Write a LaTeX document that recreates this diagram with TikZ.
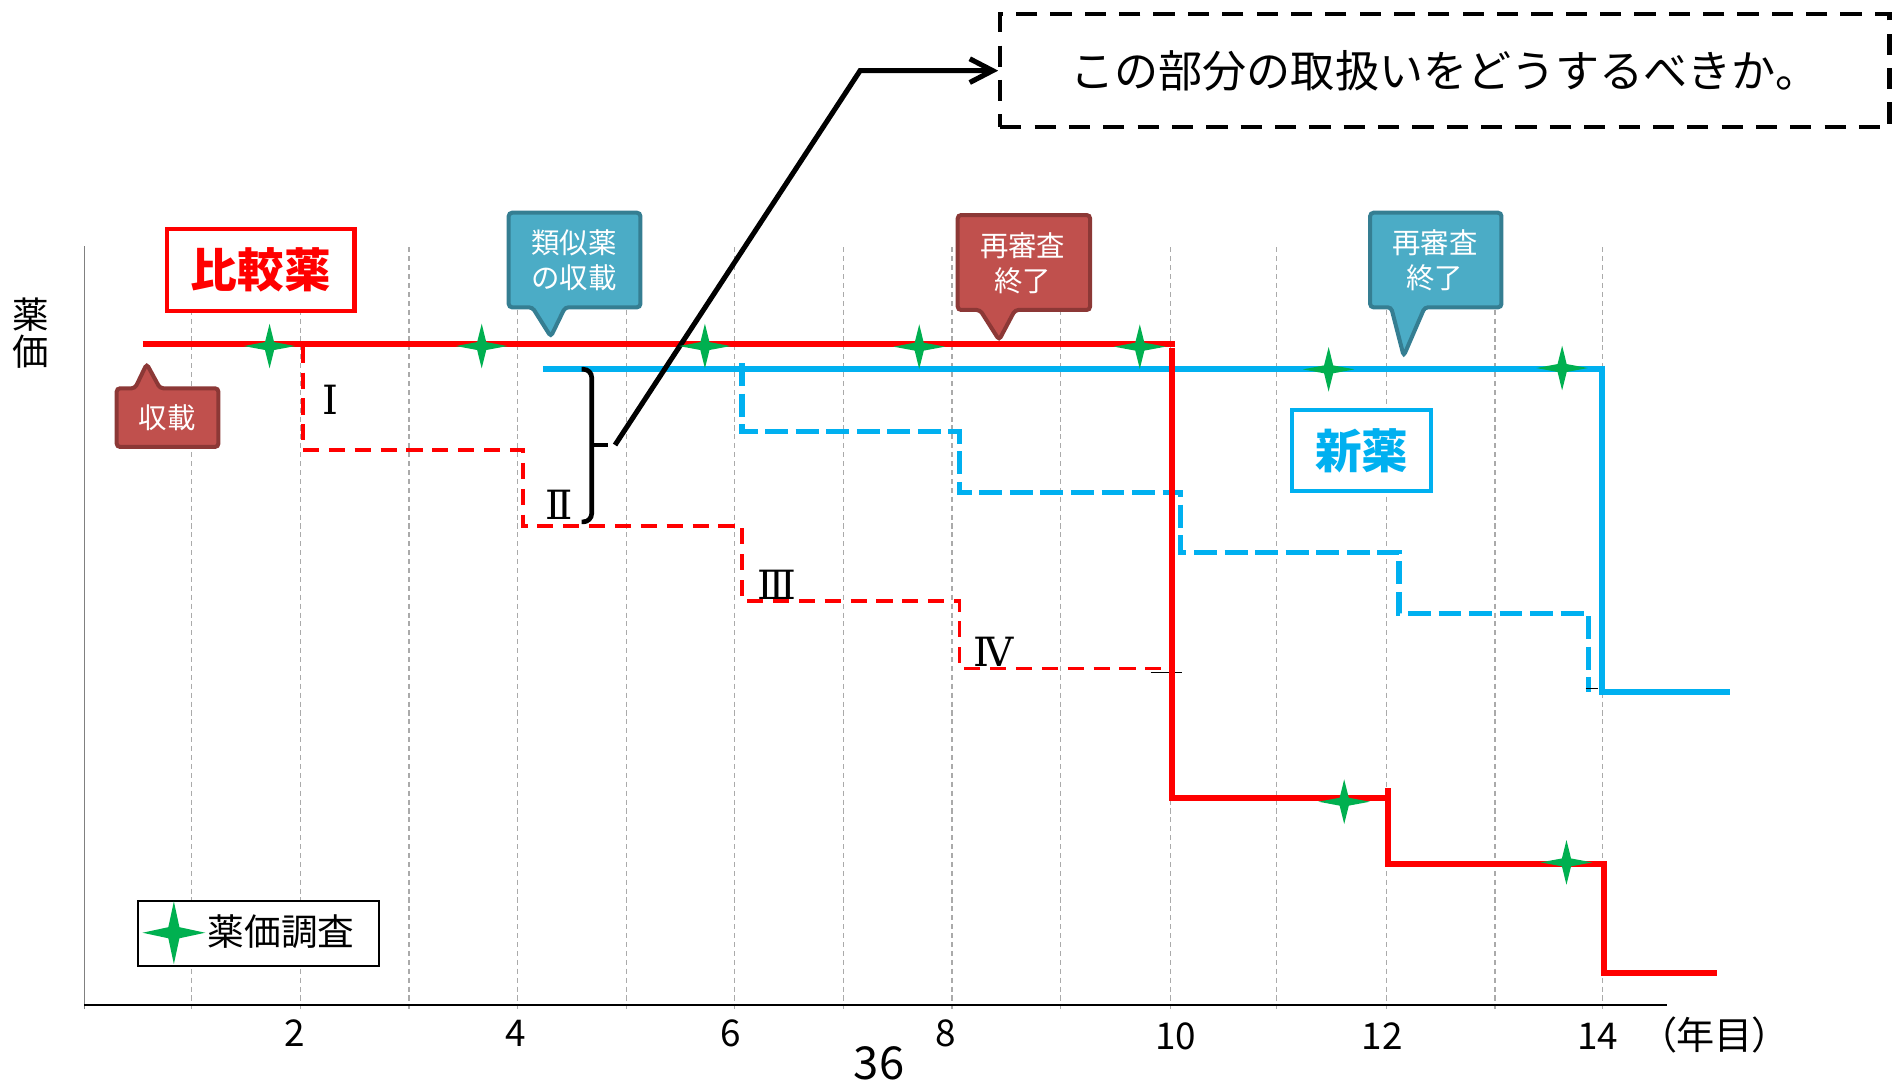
\documentclass[tikz,border=0pt]{standalone}
\usepackage{fontspec}
\setmainfont{Noto Sans CJK JP}
\newfontfamily\romanfont{DejaVu Serif}
\newfontfamily\yearfont[RawFeature=+palt]{Noto Sans CJK JP}
\usepackage{xcolor}
\usepackage{tikz}
\usetikzlibrary{shapes.geometric, arrows.meta}
\definecolor{cmpred}{RGB}{255,0,0}
\definecolor{newblue}{RGB}{0,176,240}
\definecolor{survgreen}{RGB}{0,176,80}
\definecolor{calred}{RGB}{192,80,77}
\definecolor{calredline}{RGB}{140,56,54}
\definecolor{calblue}{RGB}{75,172,198}
\definecolor{calblueline}{RGB}{53,126,146}
\definecolor{gridgray}{RGB}{170,170,170}
\tikzstyle{red step}=[-, draw=cmpred, line width=1.4pt]
\tikzstyle{red dashed step}=[-, draw=cmpred, line width=0.8pt, dash pattern=on 3.8pt off 2.3pt]
\tikzstyle{blue step}=[-, draw=newblue, line width=1.35pt]
\tikzstyle{blue dashed step}=[-, draw=newblue, line width=1.3pt, dash pattern=on 5.4pt off 1.8pt]
\tikzstyle{grid edge}=[-, draw=gridgray, line width=0.3pt, dash pattern=on 1.2pt off 0.9pt]
\tikzstyle{axis edge}=[-, draw=black, line width=0.45pt]
\tikzstyle{y axis edge}=[-, draw=gray, line width=0.4pt]
\tikzstyle{tick edge}=[-, draw=black, line width=0.3pt]
\tikzstyle{brace edge}=[-, draw=black, line width=1.1pt, rounded corners=2pt]
\tikzstyle{pointer edge}=[-{Straight Barb[length=5.4pt, width=5.6pt]}, draw=black, line width=1.2pt]
\tikzstyle{survey}=[star, star points=4, star point ratio=4, fill=survgreen, draw=none, inner sep=0pt, minimum size=0.4cm, xscale=1.07, yscale=0.925]
\tikzstyle{survey key}=[star, star points=4, star point ratio=4, fill=survgreen, draw=none, inner sep=0pt, minimum size=0.52cm]
\tikzstyle{drug box}=[fill=white, line width=1pt, inner sep=0pt, font=\fontsize{11pt}{13pt}\selectfont\bfseries]
\tikzstyle{red callout}=[fill=calred, draw=calredline, line width=0.95pt, rounded corners=0.8pt]
\tikzstyle{blue callout}=[fill=calblue, draw=calblueline, line width=0.95pt, rounded corners=0.8pt]
\tikzstyle{callout text}=[text=white, align=center, inner sep=0pt, font=\fontsize{6.7pt}{8.25pt}\selectfont]
\tikzstyle{tick}=[inner sep=0pt, font=\fontsize{8.7pt}{10pt}\selectfont]
\tikzstyle{numeral}=[inner sep=0pt, font=\romanfont\fontsize{9.5pt}{11pt}\selectfont]
\tikzstyle{question box}=[draw=black, line width=0.95pt, dash pattern=on 5pt off 3.1pt, minimum width=7.37cm, minimum height=0.94cm, inner sep=0pt, font=\fontsize{10.4pt}{12pt}\selectfont]
\tikzstyle{key box}=[draw=black, line width=0.5pt, fill=white, minimum width=1.995cm, minimum height=0.54cm]
\pgfdeclarelayer{nodelayer}
\pgfdeclarelayer{edgelayer}
\pgfsetlayers{edgelayer,nodelayer,main}
\begin{document}
\begin{tikzpicture}
	\useasboundingbox (0, 0) rectangle (15.68, -8.95);
	\begin{pgfonlayer}{nodelayer}
		% labels and boxes
		\node [align=center, inner sep=0pt, font=\fontsize{8.6pt}{8.7pt}\selectfont] (0) at (0.254, -2.763) {薬\\価};
		\node [style=drug box, draw=cmpred, text=cmpred, minimum width=1.554cm, minimum height=0.675cm] (1) at (2.161, -2.2375) {比較薬};
		\node [style=drug box, draw=newblue, text=newblue, minimum width=1.154cm, minimum height=0.669cm] (2) at (11.285, -3.7325) {新薬};
		\node [style=question box] (3) at (11.974, -0.5855) {この部分の取扱いをどうするべきか。};
		% callouts
		\draw [style=red callout] (0.967, -3.218) -- (1.119, -3.218) -- (1.216, -3.016) -- (1.326, -3.218) -- (1.81, -3.218) -- (1.81, -3.704) -- (0.967, -3.704) -- cycle;
		\draw [style=blue callout] (4.216, -1.763) -- (5.307, -1.763) -- (5.307, -2.547) -- (4.683, -2.547) -- (4.565, -2.79) -- (4.412, -2.547) -- (4.216, -2.547) -- cycle;
		\draw [style=red callout] (7.937, -1.782) -- (9.034, -1.782) -- (9.034, -2.569) -- (8.412, -2.569) -- (8.28, -2.818) -- (8.122, -2.569) -- (7.937, -2.569) -- cycle;
		\draw [style=blue callout] (11.355, -1.763) -- (12.443, -1.763) -- (12.443, -2.547) -- (11.807, -2.547) -- (11.633, -2.95) -- (11.529, -2.547) -- (11.355, -2.547) -- cycle;
		\node [style=callout text] (4) at (1.385, -3.46) {収載};
		\node [style=callout text] (5) at (4.758, -2.155) {類似薬\\の収載};
		\node [style=callout text] (6) at (8.476, -2.18) {再審査\\終了};
		\node [style=callout text] (7) at (11.892, -2.155) {再審査\\終了};
		% price surveys
		\node [style=survey] (8) at (2.234, -2.868) {};
		\node [style=survey] (9) at (3.992, -2.868) {};
		\node [style=survey] (10) at (5.842, -2.868) {};
		\node [style=survey] (11) at (7.618, -2.873) {};
		\node [style=survey] (12) at (9.446, -2.873) {};
		\node [style=survey] (13) at (11.011, -3.061) {};
		\node [style=survey] (14) at (12.946, -3.05) {};
		\node [style=survey] (15) at (11.14, -6.644) {};
		\node [style=survey] (16) at (12.982, -7.147) {};
		% legend
		\node [style=key box] (17) at (2.1425, -7.7355) {};
		\node [style=survey key] (18) at (1.441, -7.73) {};
		\node [inner sep=0pt, font=\fontsize{8.65pt}{10pt}\selectfont] (19) at (2.33, -7.725) {薬価調査};
		% axis labels
		\node [style=tick] (20) at (2.446, -8.56) {2};
		\node [style=tick] (21) at (4.27, -8.56) {4};
		\node [style=tick] (22) at (6.053, -8.56) {6};
		\node [style=tick] (23) at (7.84, -8.56) {8};
		\node [style=tick] (24) at (9.745, -8.59) {10};
		\node [style=tick] (25) at (11.454, -8.59) {12};
		\node [style=tick] (26) at (13.239, -8.59) {14};
		\node [style=tick, font=\yearfont\fontsize{9pt}{11pt}\selectfont] (27) at (14.21, -8.58) {（年目）};
		\node [inner sep=0pt, font=\fontsize{10.7pt}{12pt}\selectfont] (28) at (7.285, -8.81) {36};
		% revisions
		\node [style=numeral] (29) at (2.74, -3.31) {Ⅰ};
		\node [style=numeral] (30) at (4.634, -4.185) {Ⅱ};
		\node [style=numeral] (31) at (6.436, -4.849) {Ⅲ};
		\node [style=numeral] (32) at (8.234, -5.406) {Ⅳ};
		\coordinate (33) at (5.097, -3.688);
		\coordinate (34) at (7.128, -0.5855);
	\end{pgfonlayer}
	\begin{pgfonlayer}{edgelayer}
		% grid
		\draw [style=grid edge] (1.59, -2.05) to (1.59, -8.365);
		\draw [style=grid edge] (2.49, -2.05) to (2.49, -8.365);
		\draw [style=grid edge] (3.39, -2.05) to (3.39, -8.365);
		\draw [style=grid edge] (4.29, -2.05) to (4.29, -8.365);
		\draw [style=grid edge] (5.19, -2.05) to (5.19, -8.365);
		\draw [style=grid edge] (6.09, -2.05) to (6.09, -8.365);
		\draw [style=grid edge] (6.99, -2.05) to (6.99, -8.365);
		\draw [style=grid edge] (7.89, -2.05) to (7.89, -8.365);
		\draw [style=grid edge] (8.79, -2.05) to (8.79, -8.365);
		\draw [style=grid edge] (9.70, -2.05) to (9.70, -8.365);
		\draw [style=grid edge] (10.58, -2.05) to (10.58, -8.365);
		\draw [style=grid edge] (11.49, -2.05) to (11.49, -8.365);
		\draw [style=grid edge] (12.39, -2.05) to (12.39, -8.365);
		\draw [style=grid edge] (13.28, -2.05) to (13.28, -8.365);
		\draw [style=y axis edge] (0.70, -2.04) to (0.70, -8.365);
		\draw [style=axis edge] (0.70, -8.332) to (13.814, -8.332);
		% revision steps
		\draw [style=red dashed step] (2.51, -2.873) -- (2.51, -3.73) -- (4.333, -3.73) -- (4.333, -4.36) -- (6.15, -4.36) -- (6.15, -4.98) -- (7.952, -4.98) -- (7.952, -5.539) -- (9.68, -5.539);
		\draw [style=blue dashed step] (6.15, -3.01) -- (6.15, -3.578) -- (7.95, -3.578) -- (7.95, -4.08) -- (9.785, -4.08) -- (9.785, -4.578) -- (11.593, -4.578) -- (11.593, -5.083) -- (13.163, -5.083) -- (13.163, -5.733);
		\draw [style=tick edge] (9.535, -5.575) to (9.793, -5.575);
		\draw [style=tick edge] (13.14, -5.705) to (13.24, -5.705);
		% prices
		\draw [style=blue step] (4.50, -3.061) -- (13.274, -3.061) -- (13.274, -5.737) -- (14.337, -5.737);
		\draw [style=red step] (1.183, -2.851) to (9.74, -2.851);
		\draw [style=red step] (9.712, -2.88) -- (9.712, -6.617) -- (11.50, -6.617);
		\draw [style=red step] (11.50, -6.534) -- (11.50, -7.164) -- (13.29, -7.164) -- (13.29, -8.067) -- (14.226, -8.067);
		% bracket and pointer
		\draw [style=brace edge] (4.82, -3.06) -| (4.904, -3.7) |- (4.82, -4.325);
		\draw [style=brace edge] (4.904, -3.688) to (5.04, -3.688);
		\draw [style=pointer edge] (33) -- (34) -- (3.west);
	\end{pgfonlayer}
\end{tikzpicture}
\end{document}
